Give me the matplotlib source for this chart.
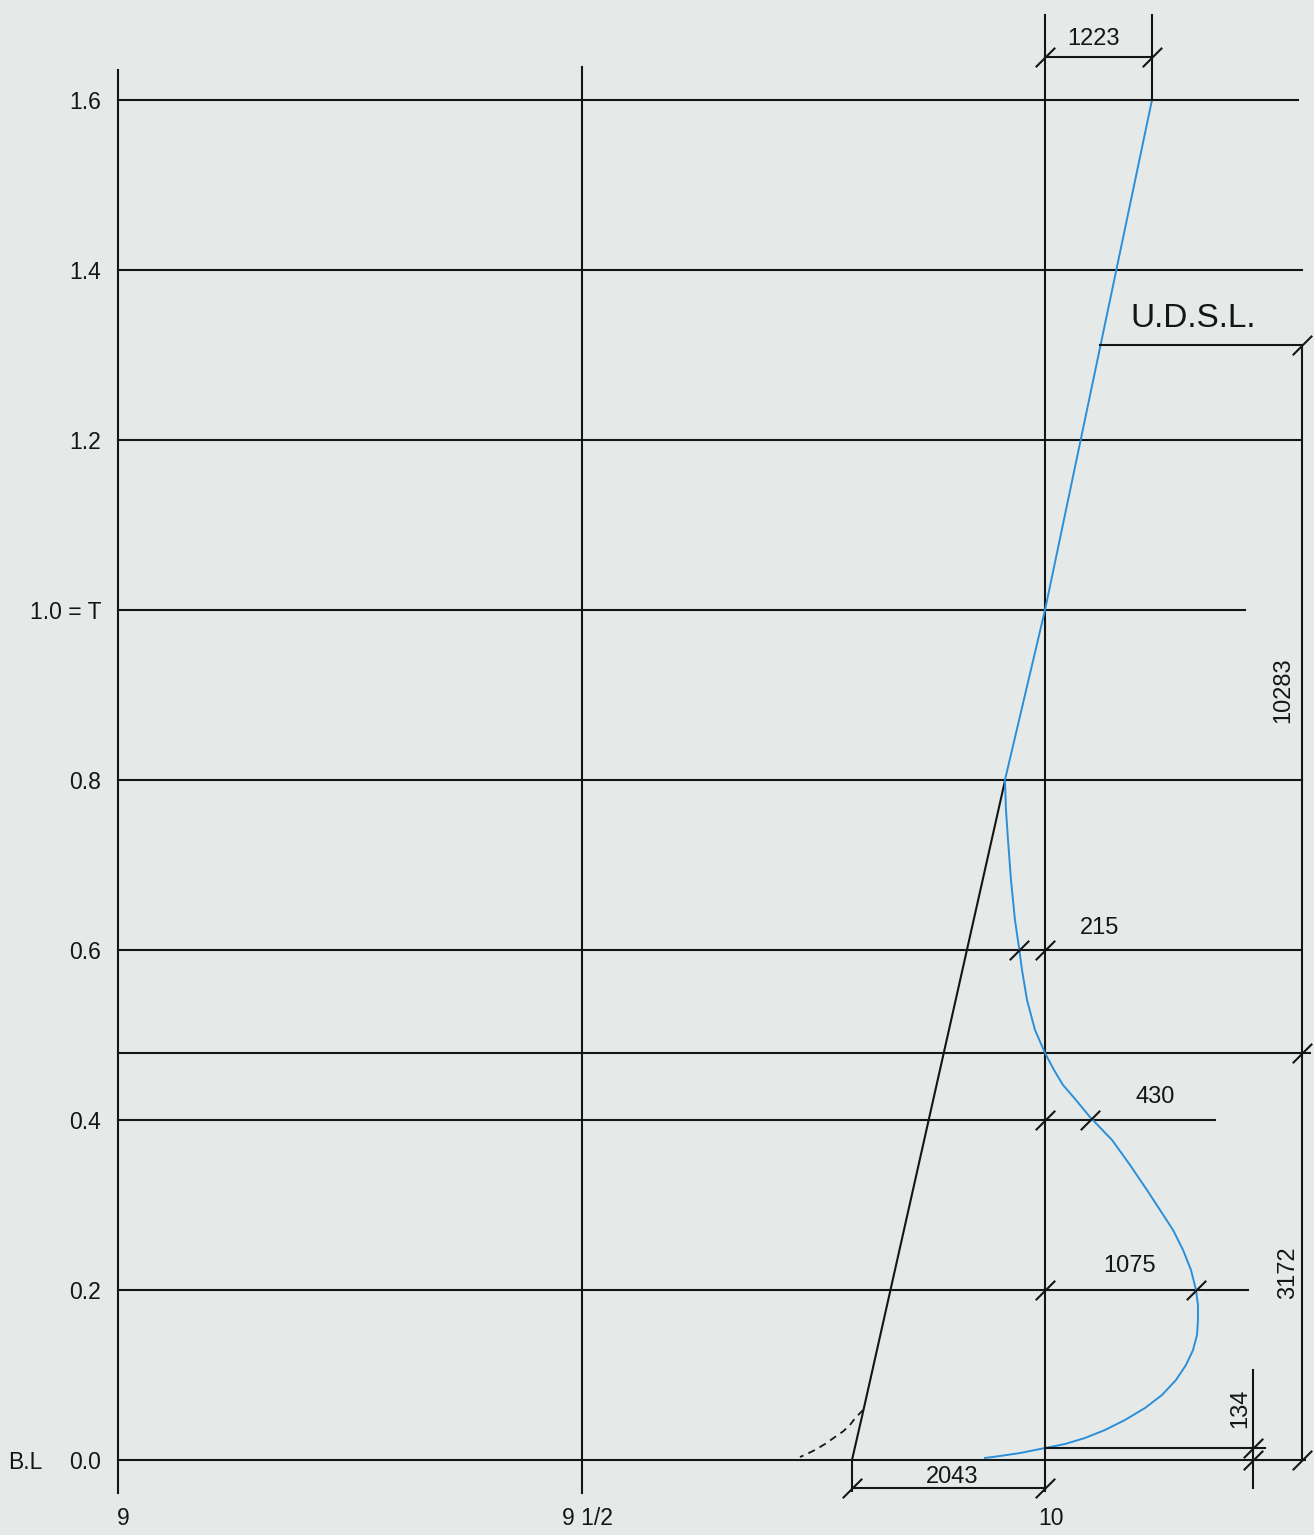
import matplotlib.pyplot as plt
from matplotlib.path import Path

plt.rcParams['font.family'] = ['Liberation Sans', 'DejaVu Sans']

# stations (x) and heights above base line (fraction of T)
grid_y = [0.0, 0.2, 0.4, 0.479, 0.6, 0.8, 1.0, 1.2, 1.4, 1.6]
grid_x_end = [10.280, 10.219, 10.183, 10.286, 10.275, 10.277, 10.216, 10.277, 10.277, 10.273]
left_labels = ["0.0", "0.2", "0.4", None, "0.6", "0.8", "1.0 = T", "1.2", "1.4", "1.6"]

stations = [9.0, 9.5, 10.0]
station_labels = ["9", "9 1/2", "10"]

# blue (designed) waterline curve
blue_x = [9.9353, 9.9515, 9.9730, 10.0000, 10.0216, 10.0431, 10.0647, 10.0863, 10.1079,
          10.1262, 10.1413, 10.1521, 10.1597, 10.1640, 10.1650, 10.1650, 10.1629, 10.1575,
          10.1489, 10.1381, 10.1241, 10.1100, 10.0917, 10.0723, 10.0485, 10.0334, 10.0194,
          10.0097, 10.0000, 9.9892, 9.9806, 9.9752, 9.9720, 9.9676, 9.9633, 9.9601, 9.9579,
          9.9568, 10.0000, 10.1154]
blue_y = [0.0024, 0.0047, 0.0082, 0.0141, 0.0188, 0.0259, 0.0353, 0.0471, 0.0612,
          0.0765, 0.0941, 0.1118, 0.1294, 0.1471, 0.1647, 0.1824, 0.2000, 0.2235,
          0.2471, 0.2706, 0.2941, 0.3176, 0.3471, 0.3765, 0.4035, 0.4235, 0.4412,
          0.4588, 0.4788, 0.5059, 0.5412, 0.5765, 0.6024, 0.6353, 0.6824, 0.7294, 0.7647,
          0.8000, 1.0000, 1.6000]

# black (parent) straight line and its dashed fillet into the base line
black_x = [9.957, 9.8037, 9.7918]
black_y = [0.800, 0.0565, 0.0]
fillet_x = [9.8037, 9.7950, 9.7896, 9.7820, 9.7735, 9.7630, 9.7519, 9.7430, 9.7357]
fillet_y = [0.0588, 0.0490, 0.0412, 0.0335, 0.0271, 0.0190, 0.0118, 0.0070, 0.0035]

udsl_y = 1.312
dim_x = 10.2772
tick_pts = [(10.0, 1.6506), (10.1154, 1.6506),
            (dim_x, udsl_y), (dim_x, 0.479), (dim_x, 0.0),
            (9.972, 0.6), (10.0, 0.6),
            (10.0, 0.4), (10.049, 0.4),
            (10.0, 0.2), (10.163, 0.2),
            (10.2244, 0.0141), (10.2244, 0.0),
            (9.7918, -0.033), (10.0, -0.033)]

dim_texts = [("1223", 10.0518, 1.672, 0), ("10283", 10.2567, 0.906, 90),
             ("3172", 10.2621, 0.22, 90), ("215", 10.0593, 0.626, 0),
             ("430", 10.1187, 0.427, 0), ("1075", 10.0917, 0.228, 0),
             ("134", 10.2104, 0.061, 90), ("2043", 9.8997, -0.020, 0)]

bg = '#e5eae9'
ink = '#151515'
blue = '#2a8fd8'
lw = 1.5

fig = plt.figure(figsize=(13.14, 15.35), dpi=100, facecolor=bg)
ax = fig.add_axes([0, 0, 1, 1])
ax.set_facecolor(bg)
ax.set_xlim(9 - 118 / 927, 9 + 1196 / 927)
ax.set_ylim(-75 / 850, 1460 / 850)
ax.axis('off')

# water lines
for y, xe in zip(grid_y, grid_x_end):
    ax.plot([9.0, xe], [y, y], color=ink, lw=lw)
for y, lab in zip(grid_y, left_labels):
    if lab:
        ax.text(8.9820, y - 0.003, lab, ha='right', va='center', fontsize=16.5, color=ink)
ax.text(8.9000, -0.003, "B.L", ha='center', va='center', fontsize=16.5, color=ink)

# stations
ax.plot([9.0, 9.0], [-0.039, 1.635], color=ink, lw=lw)
ax.plot([9.5, 9.5], [-0.039, 1.639], color=ink, lw=lw)
ax.plot([10.0, 10.0], [-0.036, 1.70], color=ink, lw=lw)
for s, lab in zip(stations, station_labels):
    ax.text(s + 0.006, -0.069, lab, ha='center', va='center', fontsize=16.5, color=ink)

# curves
ax.plot(black_x, black_y, color=ink, lw=lw)
ax.plot(fillet_x, fillet_y, color=ink, lw=1.3, ls=(0, (4, 3)))
ax.plot(blue_x, blue_y, color=blue, lw=1.4)

# dimension lines
ax.plot([10.1154, 10.1154], [1.6, 1.70], color=ink, lw=lw)
ax.plot([10.0, 10.1154], [1.6506, 1.6506], color=ink, lw=lw)
ax.plot([10.0593, dim_x], [udsl_y, udsl_y], color=ink, lw=lw)
ax.plot([dim_x, dim_x], [0.0, udsl_y], color=ink, lw=lw)
ax.plot([10.0, 10.2373], [0.0141, 0.0141], color=ink, lw=lw)
ax.plot([10.2244, 10.2244], [-0.033, 0.106], color=ink, lw=lw)
ax.plot([9.7918, 9.7918], [-0.036, 0.0], color=ink, lw=lw)
ax.plot([9.7918, 10.0], [-0.033, -0.033], color=ink, lw=lw)

slash = Path([(-1, -1), (1, 1)], [Path.MOVETO, Path.LINETO])
tx, ty = zip(*tick_pts)
ax.plot(tx, ty, ls='none', marker=slash, markersize=14, markeredgewidth=1.5, color=ink)

for txt, x, y, rot in dim_texts:
    ax.text(x, y, txt, ha='center', va='center', rotation=rot, fontsize=17, color=ink)
ax.text(10.1597, 1.343, "U.D.S.L.", ha='center', va='center', fontsize=24, color=ink)

fig.savefig('out.png', dpi=100, facecolor=bg)
